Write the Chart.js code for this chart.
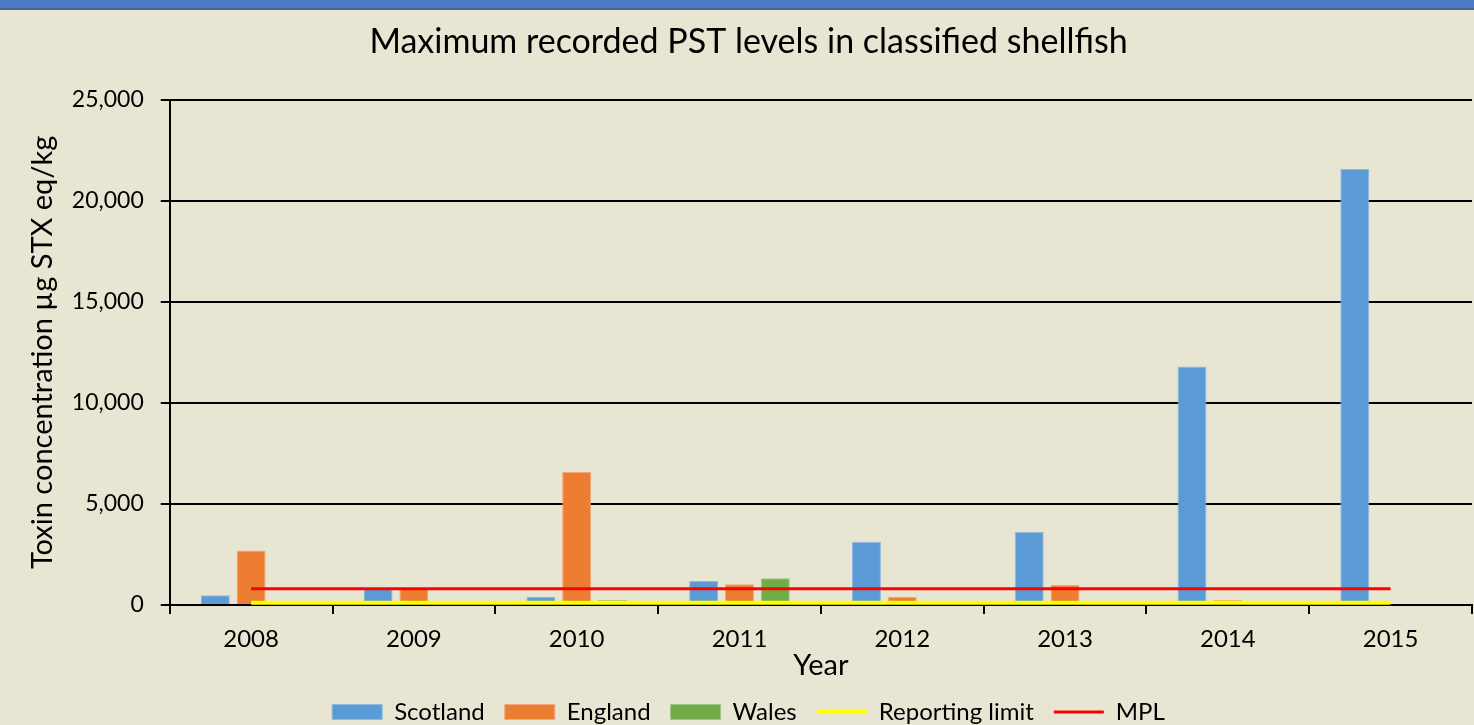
<!DOCTYPE html>
<html>
<head>
<meta charset="utf-8">
<script src="https://cdn.jsdelivr.net/npm/chart.js@4"></script>
<style>
  html, body { margin: 0; padding: 0; background: #E8E5D3; overflow: hidden; }
  #strip { position: absolute; left: 0; top: 0; width: 1474px; height: 8px; background: #4F7AC8; border-bottom: 2px solid #3F6A96; z-index: 2; }
  #wrap { position: absolute; left: 0; top: 0; width: 1474px; height: 734px; }
</style>
</head>
<body>
<div id="strip"></div>
<div id="wrap"><canvas id="pstChart"></canvas></div>
<script>
var years = ['2008', '2009', '2010', '2011', '2012', '2013', '2014', '2015'];
var scotland = [480, 830, 410, 1190, 3130, 3620, 11800, 21580];
var england = [2700, 820, 6580, 1030, 410, 990, 250, 0];
var wales = [0, 0, 250, 1320, 0, 0, 0, 0];
var reportingLimit = [110, 110, 110, 110, 110, 110, 110, 110];
var mpl = [800, 800, 800, 800, 800, 800, 800, 800];

var fontName = 'Lato, "Open Sans", sans-serif';
Chart.defaults.font.family = fontName;
Chart.defaults.color = '#000000';

function buildPstChart() {
    var ctx = document.getElementById('pstChart').getContext('2d');
    new Chart(ctx, {
        type: 'bar',
        data: {
            labels: years,
            datasets: [
                { label: 'Scotland', data: scotland, backgroundColor: '#5B9BD5', borderColor: '#8DB8E2', borderWidth: 1, pointStyle: 'rect', order: 2 },
                { label: 'England', data: england, backgroundColor: '#ED7D31', borderColor: '#F3A77A', borderWidth: 1, pointStyle: 'rect', order: 2 },
                { label: 'Wales', data: wales, backgroundColor: '#70AD47', borderColor: '#9CC782', borderWidth: 1, pointStyle: 'rect', order: 2 },
                { type: 'line', label: 'Reporting limit', data: reportingLimit, borderColor: '#FFFF00', backgroundColor: '#FFFF00', borderWidth: 4, pointRadius: 0, pointStyle: 'line', order: 1 },
                { type: 'line', label: 'MPL', data: mpl, borderColor: '#FF0000', backgroundColor: '#FF0000', borderWidth: 3, pointRadius: 0, pointStyle: 'line', order: 0 }
            ]
        },
        options: {
            responsive: true,
            maintainAspectRatio: false,
            animation: false,
            categoryPercentage: 0.66,
            barPercentage: 0.81,
            layout: { padding: { top: 12, right: 2, left: 25, bottom: 0 } },
            plugins: {
                title: {
                    display: true,
                    text: 'Maximum recorded PST levels in classified shellfish',
                    font: { size: 34, weight: 'normal' },
                    color: '#000000',
                    padding: { top: 10, bottom: 37 }
                },
                legend: {
                    position: 'bottom',
                    labels: {
                        usePointStyle: true,
                        pointStyleWidth: 50,
                        boxHeight: 15,
                        padding: 20,
                        font: { size: 24 },
                        color: '#000000',
                        sort: function (a, b) { return a.datasetIndex - b.datasetIndex; }
                    }
                },
                tooltip: { enabled: false }
            },
            scales: {
                x: {
                    grid: { drawOnChartArea: false, drawTicks: true, tickLength: 9, color: '#000000', lineWidth: 2 },
                    border: { color: '#000000', width: 2 },
                    ticks: { font: { size: 24, lineHeight: 1 }, color: '#000000', padding: 13 },
                    title: { display: true, text: 'Year', font: { size: 29, lineHeight: 1 }, color: '#000000', padding: { top: -13, bottom: 0 } }
                },
                y: {
                    min: 0,
                    max: 25000,
                    ticks: {
                        stepSize: 5000,
                        font: { size: 23 },
                        color: '#000000',
                        padding: 17,
                        callback: function (v) { return v.toLocaleString('en-US'); }
                    },
                    grid: { color: '#000000', lineWidth: 2, tickLength: 9 },
                    border: { color: '#000000', width: 2 },
                    title: { display: true, text: 'Toxin concentration µg STX eq/kg', font: { size: 29 }, color: '#000000', padding: { top: 0, bottom: -5 } }
                }
            }
        }
    });
}

buildPstChart();
</script>
</body>
</html>
